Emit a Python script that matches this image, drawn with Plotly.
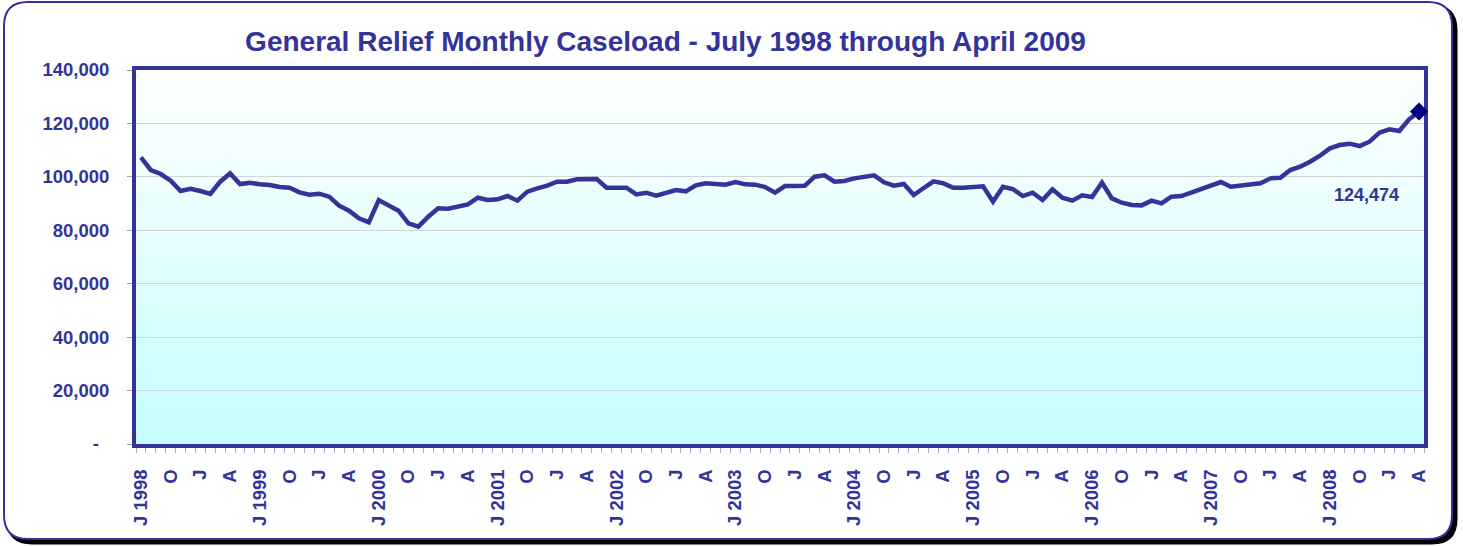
import plotly.graph_objects as go
import pandas as pd

# ---------------- data ----------------
months = [d.strftime("%b %Y") for d in pd.date_range("1998-07-01", "2009-04-01", freq="MS")]

caseload = [
    107300, 102560, 101060, 98560, 94700, 95570, 94700, 93580, 98190, 101310, 97320, 97820,   # FY 98-99
    97200, 96940, 96200, 95950, 94200, 93330, 93700, 92580, 89210, 87340, 84470, 82970,       # FY 99-00
    91330, 89210, 87340, 82600, 81350, 85090, 88210, 88080, 88830, 89710, 92200, 91330,       # FY 00-01
    91580, 92830, 91080, 94450, 95690, 96690, 98190, 98190, 99060, 99190, 99190, 95940,       # FY 01-02
    95940, 95940, 93450, 94070, 92950, 94200, 95070, 94580, 96820, 97570, 97320, 97070,       # FY 02-03
    98070, 97200, 97070, 96200, 94070, 96570, 96570, 96700, 100060, 100560, 98190, 98440,     # FY 03-04
    99440, 99940, 100560, 97950, 96690, 97320, 93200, 95820, 98320, 97570, 95940, 95940,      # FY 04-05
    96200, 96450, 90700, 96320, 95450, 92830, 94070, 91330, 95320, 92200, 91080, 93080,       # FY 05-06
    92450, 97820, 91950, 90330, 89460, 89330, 91080, 90080, 92580, 92830, 94070, 95320,       # FY 06-07
    96940, 98070, 96320, 96820, 97320, 97570, 99440, 99690, 102560, 103810, 105680, 107920,   # FY 07-08
    110680, 111920, 112420, 111540, 113160, 116530, 117780, 117150, 121530, 124474,           # FY 08-09
]

month_letter = {"Jul": "J", "Oct": "O", "Jan": "J", "Apr": "A"}
x_tick_text = []
for m in months:
    mon, yr = m.split()
    if mon == "Jul":
        x_tick_text.append(f"J {yr}")
    elif mon in month_letter:
        x_tick_text.append(month_letter[mon])
    else:
        x_tick_text.append("")

y_tick_vals = [0, 20000, 40000, 60000, 80000, 100000, 120000, 140000]
y_tick_text = ["-\u00a0\u00a0", "20,000", "40,000", "60,000", "80,000", "100,000", "120,000", "140,000"]

title_text = "General Relief Monthly Caseload - July 1998 through April 2009"

# ---------------- styling ----------------
NAVY = "#333399"
W, H = 1463, 546
ML, MR, MT, MB = 136, 39, 70, 102
PW, PH = W - ML - MR, H - MT - MB
FONT = "Liberation Sans, Arial, sans-serif"


def px(xp):
    return (xp - ML) / PW


def py(yp):
    return (H - MB - yp) / PH


def rounded_rect_path(x0, y0, x1, y1, r):
    pts = [
        f"M {px(x0 + r)},{py(y0)}",
        f"L {px(x1 - r)},{py(y0)}",
        f"Q {px(x1)},{py(y0)} {px(x1)},{py(y0 + r)}",
        f"L {px(x1)},{py(y1 - r)}",
        f"Q {px(x1)},{py(y1)} {px(x1 - r)},{py(y1)}",
        f"L {px(x0 + r)},{py(y1)}",
        f"Q {px(x0)},{py(y1)} {px(x0)},{py(y1 - r)}",
        f"L {px(x0)},{py(y0 + r)}",
        f"Q {px(x0)},{py(y0)} {px(x0 + r)},{py(y0)}",
        "Z",
    ]
    return " ".join(pts)


shapes = []
# outer frame shadow + frame
shapes.append(dict(type="path", xref="paper", yref="paper", layer="below",
                   path=rounded_rect_path(8, 6, 1456, 543, 24),
                   line=dict(color="black", width=3), fillcolor="black"))
shapes.append(dict(type="path", xref="paper", yref="paper", layer="below",
                   path=rounded_rect_path(4, 2, 1452, 539, 24),
                   line=dict(color=NAVY, width=2), fillcolor="white"))

# plot-area gradient (white top -> light cyan bottom)
n = 80
for i in range(n):
    t = (i + 0.5) / n
    r = int(round(255 - 57 * t))
    shapes.append(dict(type="rect", xref="x domain", yref="y domain", layer="below",
                       x0=0, x1=1, y0=1 - (i + 1) / n, y1=1 - i / n + 0.002,
                       line=dict(width=0), fillcolor=f"rgb({r},255,255)"))

fig = go.Figure()
fig.add_trace(go.Scatter(
    x=months, y=caseload, mode="lines",
    line=dict(color=NAVY, width=4.5), hoverinfo="x+y", showlegend=False,
))
fig.add_trace(go.Scatter(
    x=[months[-1]], y=[caseload[-1]], mode="markers",
    marker=dict(symbol="diamond", size=14, color="#000080"),
    cliponaxis=False, showlegend=False,
))

fig.update_layout(
    width=W, height=H,
    margin=dict(l=ML, r=MR, t=MT, b=MB, autoexpand=False),
    paper_bgcolor="white", plot_bgcolor="rgba(0,0,0,0)",
    font=dict(family=FONT, color=NAVY),
    title=dict(text=title_text, xref="container", yref="container",
               x=665.5 / W, xanchor="center", y=1 - 41 / H, yanchor="middle",
               font=dict(size=28, weight="bold", color=NAVY, family=FONT)),
    shapes=shapes,
    annotations=[dict(xref="paper", yref="paper", x=px(1366), y=py(195),
                      text=f"{caseload[-1]:,}", showarrow=False,
                      xanchor="center", yanchor="middle",
                      font=dict(size=18, weight="bold", color=NAVY, family=FONT))],
)

fig.update_xaxes(
    type="category", range=[-0.5, len(months) - 0.5],
    tickmode="array", tickvals=months, ticktext=x_tick_text,
    tickson="boundaries", ticks="outside", ticklen=5, tickcolor="#a8a8c8", tickwidth=1,
    tickangle=-90, tickfont=dict(size=18.5, weight="bold", color=NAVY, family=FONT),
    showgrid=False, zeroline=False, ticklabelstandoff=14,
    showline=True, mirror=True, linecolor=NAVY, linewidth=4, layer="below traces",
)
fig.update_yaxes(
    range=[0, 140000], tickmode="array", tickvals=y_tick_vals, ticktext=y_tick_text,
    ticks="outside", ticklen=5, tickcolor="#a0a0a0",
    tickfont=dict(size=18.5, weight="bold", color=NAVY, family=FONT),
    showgrid=True, gridcolor="#d4d4d4", gridwidth=1, zeroline=False,
    ticklabelstandoff=14,
    showline=True, mirror=True, linecolor=NAVY, linewidth=4, layer="below traces",
)

fig.write_html(
    "out.html",
    config={"displayModeBar": False},
    post_script="document.body.style.margin='0';document.body.style.overflow='hidden';",
)
